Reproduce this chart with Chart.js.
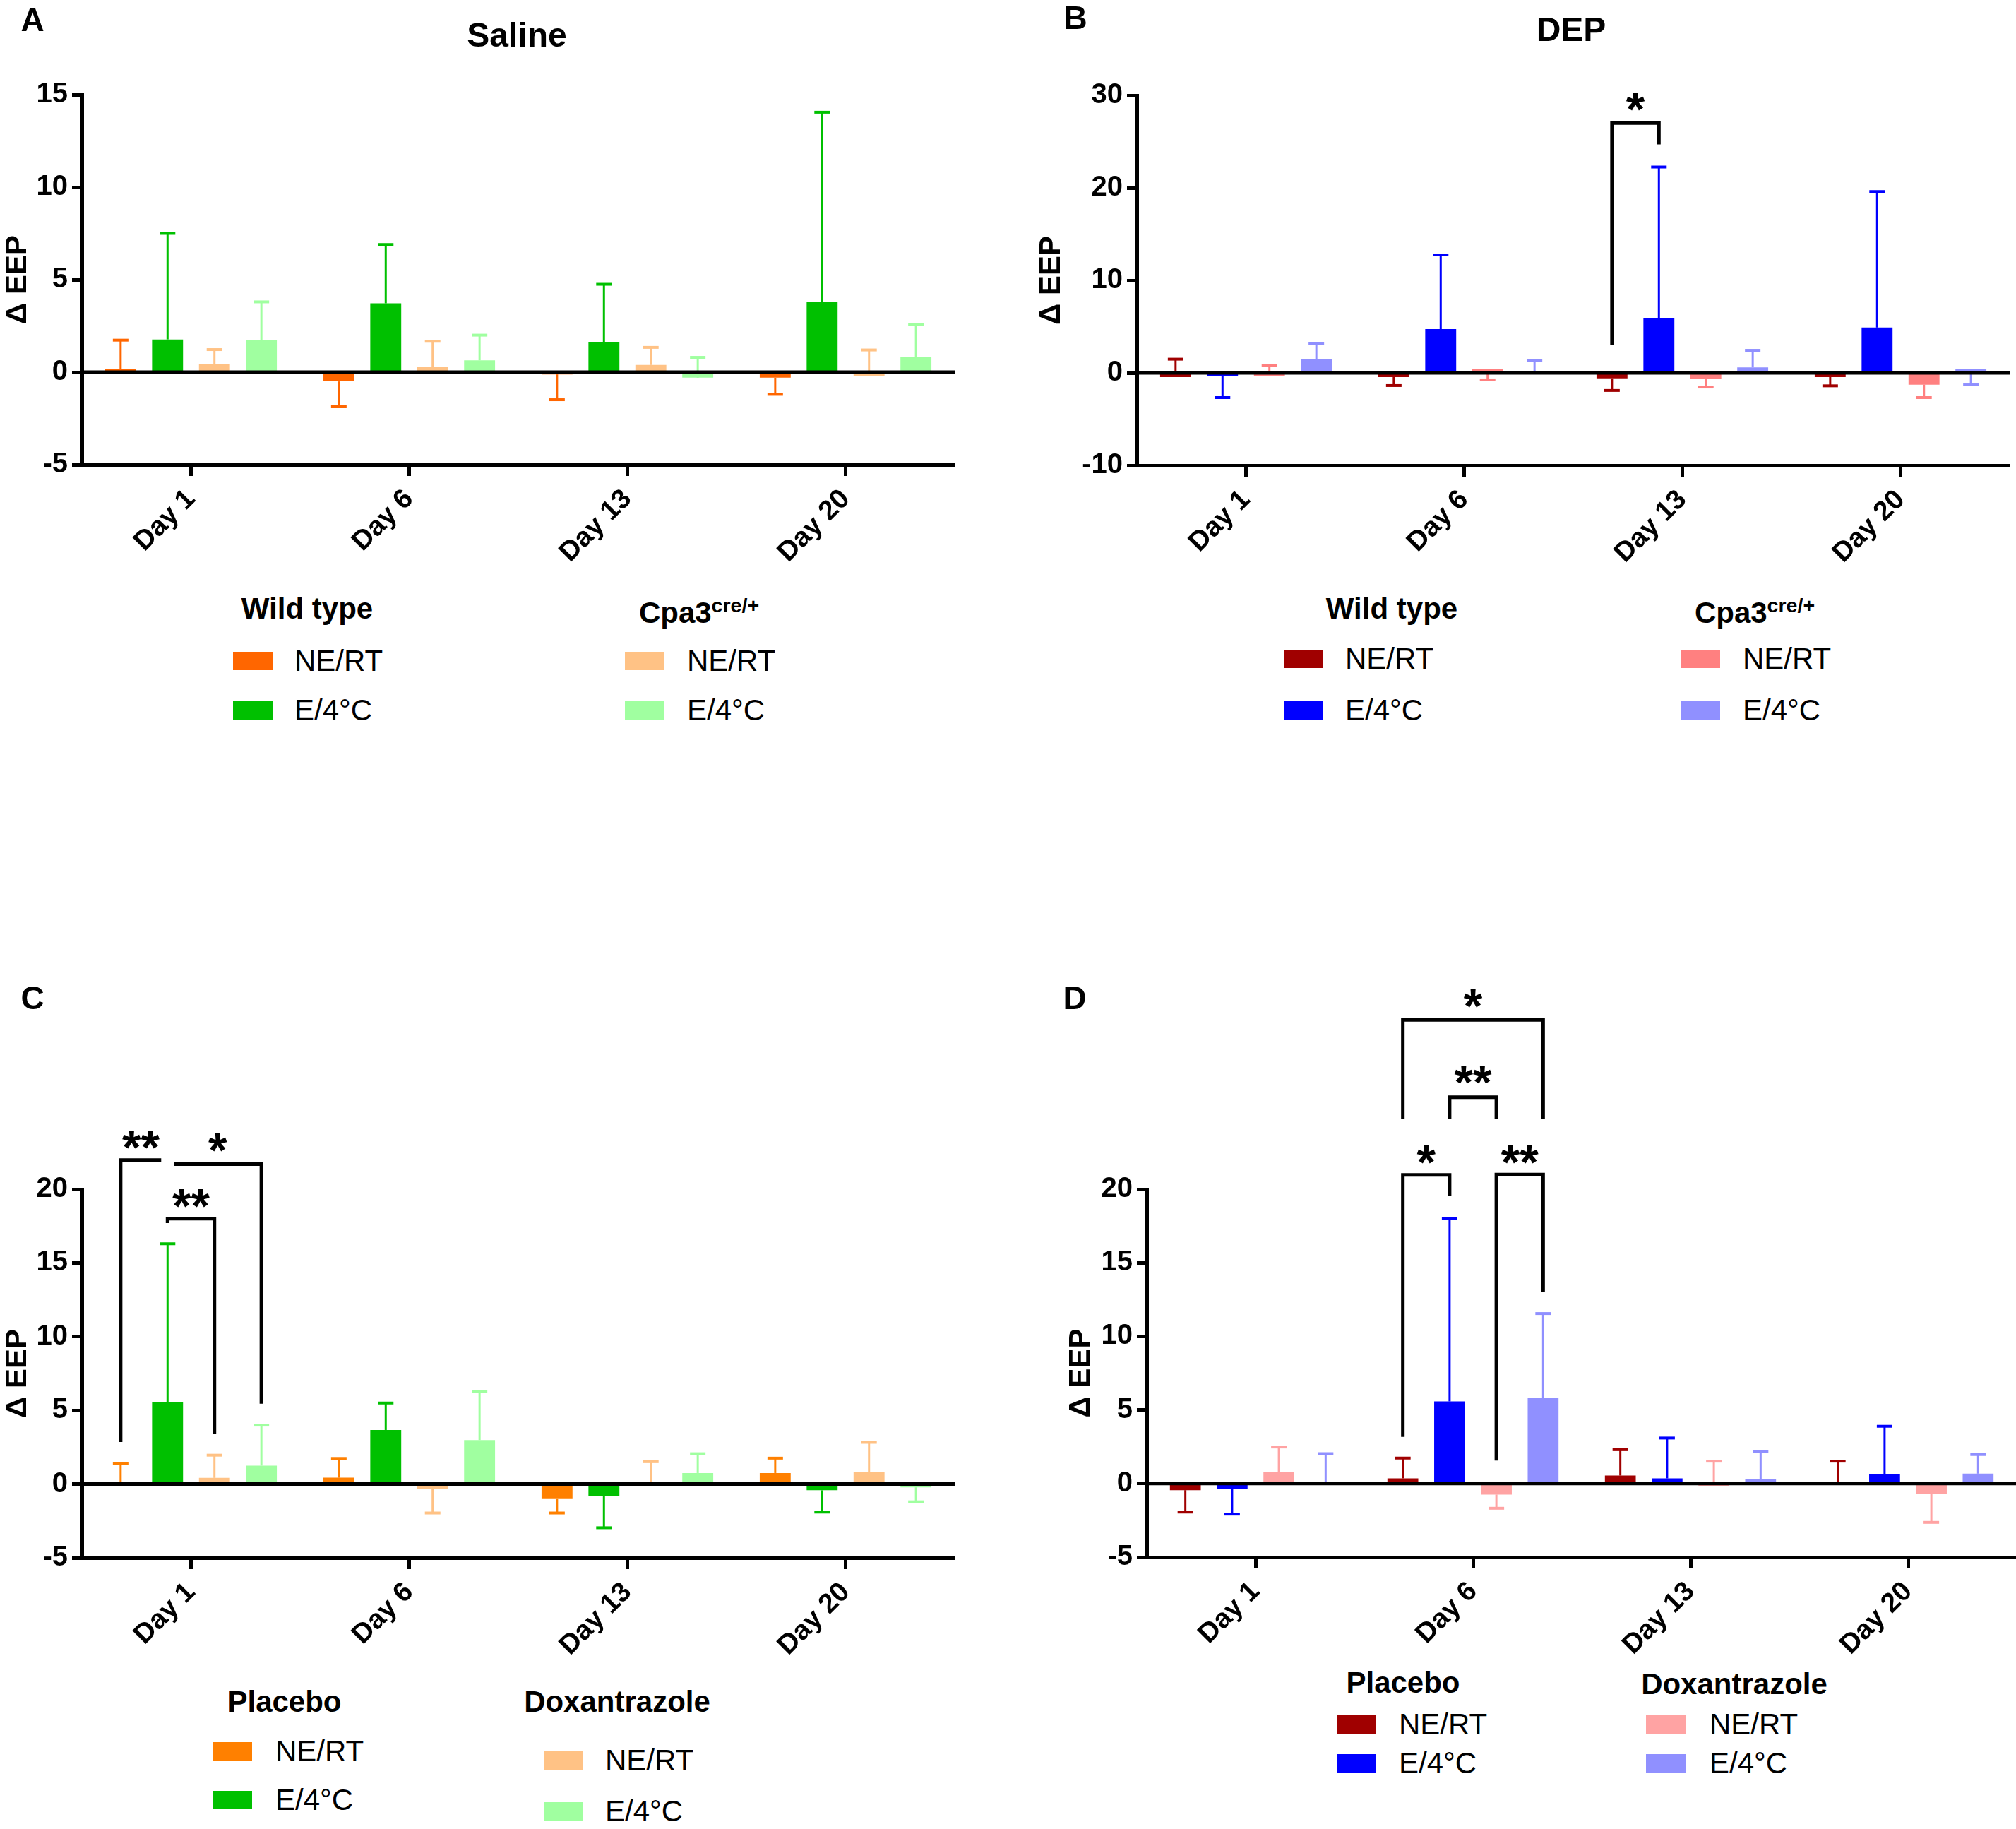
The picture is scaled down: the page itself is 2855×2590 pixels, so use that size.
<!DOCTYPE html>
<html>
<head>
<meta charset="utf-8">
<title>EEP</title>
<script src="https://cdn.jsdelivr.net/npm/chart.js@4.4.1/dist/chart.umd.min.js"></script>
<style>
    html, body { margin: 0; padding: 0; background: #fff; overflow: hidden; }
    body { width: 2855px; height: 2590px; position: relative; font-family: "Liberation Sans", Arial, sans-serif; color: #000; }
    canvas { position: absolute; }
    .txt { position: absolute; white-space: nowrap; line-height: 1; }
    .mid { transform: translate(-50%, -50%); }
    .left { transform: translateY(-50%); }
    .letter { font-size: 46px; font-weight: bold; }
    .title { font-size: 48px; font-weight: bold; }
    .head { font-size: 42px; font-weight: bold; }
    .head sup { font-size: 0.68em; vertical-align: 0.55em; }
    .item { font-size: 42px; }
    .sw { position: absolute; width: 56px; height: 26px; transform: translateY(-50%); }
</style>
</head>
<body>
<script>
const days = ['Day 1', 'Day 6', 'Day 13', 'Day 20'];

// A - Saline (bar = mean, *Err = where the whisker ends)
const salWtNe = [0.15, -0.5, -0.12, -0.3];
const salWtNeErr = [1.73, -1.87, -1.49, -1.2];
const salWtE4 = [1.77, 3.72, 1.62, 3.8];
const salWtE4Err = [7.5, 6.9, 4.75, 14.05];
const salCpaNe = [0.45, 0.29, 0.39, -0.23];
const salCpaNeErr = [1.22, 1.67, 1.34, 1.2];
const salCpaE4 = [1.72, 0.64, -0.3, 0.8];
const salCpaE4Err = [3.8, 2.0, 0.8, 2.57];

// B - DEP
const depWtNe = [-0.46, -0.46, -0.59, -0.46];
const depWtNeErr = [1.48, -1.37, -1.9, -1.4];
const depWtE4 = [-0.3, 4.73, 5.93, 4.9];
const depWtE4Err = [-2.67, 12.75, 22.25, 19.6];
const depCpaNe = [-0.36, 0.46, -0.69, -1.27];
const depCpaNeErr = [0.81, -0.76, -1.53, -2.67];
const depCpaE4 = [1.48, 0.2, 0.59, 0.46];
const depCpaE4Err = [3.16, 1.35, 2.44, -1.3];

// C - Saline, placebo / doxantrazole
const plaNe = [0.05, 0.43, -0.97, 0.75];
const plaNeErr = [1.39, 1.74, -1.96, 1.76];
const plaE4 = [5.54, 3.67, -0.78, -0.42];
const plaE4Err = [16.3, 5.5, -2.96, -1.9];
const doxNe = [0.42, -0.35, -0.1, 0.81];
const doxNeErr = [1.96, -1.96, 1.52, 2.83];
const doxE4 = [1.25, 2.99, 0.75, -0.22];
const doxE4Err = [4.0, 6.28, 2.06, -1.2];

// D - DEP, placebo / doxantrazole
const dPlaNe = [-0.45, 0.35, 0.54, 0.02];
const dPlaNeErr = [-1.94, 1.73, 2.3, 1.52];
const dPlaE4 = [-0.38, 5.58, 0.35, 0.61];
const dPlaE4Err = [-2.08, 18.0, 3.09, 3.89];
const dDoxNe = [0.78, -0.75, -0.15, -0.69];
const dDoxNeErr = [2.48, -1.68, 1.52, -2.64];
const dDoxE4 = [0.12, 5.84, 0.3, 0.67];
const dDoxE4Err = [2.03, 11.55, 2.16, 1.97];

// significance brackets: from, to, day, top, left leg end, right leg end, text, text centre
const sigB = [
    { from: 0, to: 1, cat: 2, top: 27.0, legL: 2.97, legR: 24.7, text: '*', at: 29.7 },
];
const sigC = [
    { from: 0, to: 1, cat: 0, top: 21.97, legL: 2.86, legR: null, text: '**', at: 23.6, trimR: 9 },
    { from: 1, to: 3, cat: 0, top: 21.7, legL: null, legR: 5.45, text: '*', at: 23.4, trimL: 9 },
    { from: 1, to: 2, cat: 0, top: 18.0, legL: 17.7, legR: 3.43, text: '**', at: 19.6 },
];
const sigD = [
    { from: 0, to: 1, cat: 1, top: 20.97, legL: 3.17, legR: 19.55, text: '*', at: 22.6 },
    { from: 2, to: 3, cat: 1, top: 21.0, legL: 1.56, legR: 13.0, text: '**', at: 22.6 },
    { from: 1, to: 2, cat: 1, top: 26.25, legL: 24.8, legR: 24.8, text: '**', at: 28.0 },
    { from: 0, to: 3, cat: 1, top: 31.5, legL: 24.8, legR: 24.8, text: '*', at: 33.2 },
];

const FONT = '"Liberation Sans", Arial, sans-serif';

// Error bars (one-sided whiskers), then the zero line on top
const errorBars = {
    id: 'errorBars',
    afterDatasetsDraw(chart) {
        const ctx = chart.ctx;
        const y = chart.scales.y;
        chart.data.datasets.forEach((ds, i) => {
            const meta = chart.getDatasetMeta(i);
            meta.data.forEach((bar, j) => {
                const y1 = y.getPixelForValue(ds.data[j]);
                const y2 = y.getPixelForValue(ds.errEnd[j]);
                ctx.save();
                ctx.strokeStyle = ds.backgroundColor;
                ctx.lineWidth = 3;
                ctx.beginPath();
                ctx.moveTo(bar.x, y1);
                ctx.lineTo(bar.x, y2);
                ctx.stroke();
                ctx.lineWidth = 4;
                ctx.beginPath();
                ctx.moveTo(bar.x - 11, y2);
                ctx.lineTo(bar.x + 11, y2);
                ctx.stroke();
                ctx.restore();
            });
        });
        const y0 = y.getPixelForValue(0);
        const a = chart.chartArea;
        ctx.save();
        ctx.strokeStyle = '#000';
        ctx.lineWidth = 5;
        ctx.beginPath();
        ctx.moveTo(a.left, y0);
        ctx.lineTo(a.right, y0);
        ctx.stroke();
        ctx.restore();
    }
};

const brackets = {
    id: 'brackets',
    afterDraw(chart, args, opts) {
        const list = opts.list || [];
        const ctx = chart.ctx;
        const y = chart.scales.y;
        list.forEach((b) => {
            const x1 = chart.getDatasetMeta(b.from).data[b.cat].x + (b.trimL || 0);
            const x2 = chart.getDatasetMeta(b.to).data[b.cat].x - (b.trimR || 0);
            const yt = y.getPixelForValue(b.top);
            ctx.save();
            ctx.strokeStyle = '#000';
            ctx.lineWidth = 5;
            ctx.lineJoin = 'miter';
            ctx.beginPath();
            if (b.legL !== null) {
                ctx.moveTo(x1, y.getPixelForValue(b.legL));
                ctx.lineTo(x1, yt);
            } else {
                ctx.moveTo(x1, yt);
            }
            ctx.lineTo(x2, yt);
            if (b.legR !== null) ctx.lineTo(x2, y.getPixelForValue(b.legR));
            ctx.stroke();
            ctx.fillStyle = '#000';
            ctx.font = 'bold 68px ' + FONT;
            ctx.textAlign = 'center';
            ctx.textBaseline = 'alphabetic';
            ctx.fillText(b.text, (x1 + x2) / 2, y.getPixelForValue(b.at) + 39);
            ctx.restore();
        });
    }
};

function series(data, errEnd, color) {
    return { data, errEnd, backgroundColor: color, borderWidth: 0 };
}

function makePanel(box, datasets, yMin, yMax, yStep, sig) {
    const canvas = document.createElement('canvas');
    canvas.width = box.w;
    canvas.height = box.h;
    canvas.style.left = box.x + 'px';
    canvas.style.top = box.y + 'px';
    canvas.style.width = box.w + 'px';
    canvas.style.height = box.h + 'px';
    document.body.appendChild(canvas);

    return new Chart(canvas, {
        type: 'bar',
        data: { labels: days, datasets },
        options: {
            responsive: false,
            animation: false,
            devicePixelRatio: 1,
            layout: { padding: { left: 0, top: box.padTop, right: box.padRight, bottom: 0 } },
            datasets: { bar: { categoryPercentage: 0.86, barPercentage: 0.66 } },
            plugins: {
                legend: { display: false },
                tooltip: { enabled: false },
                brackets: { list: sig },
            },
            scales: {
                x: {
                    grid: { offset: false, drawOnChartArea: false, tickLength: 16, tickWidth: 5, tickColor: '#000' },
                    border: { color: '#000', width: 5 },
                    ticks: {
                        color: '#000',
                        font: { family: FONT, size: 39, weight: 'bold' },
                        minRotation: 45,
                        maxRotation: 45,
                        padding: 10,
                    },
                    afterFit(s) { s.height = 150; },
                },
                y: {
                    min: yMin,
                    max: yMax,
                    ticks: {
                        stepSize: yStep,
                        color: '#000',
                        font: { family: FONT, size: 40, weight: 'bold' },
                        padding: 6,
                    },
                    grid: { drawOnChartArea: false, tickLength: 14, tickWidth: 5, tickColor: '#000' },
                    border: { color: '#000', width: 5 },
                    title: {
                        display: true,
                        text: '\u0394 EEP',
                        color: '#000',
                        font: { family: FONT, size: 42, weight: 'bold' },
                        padding: 0,
                    },
                    afterFit(s) { s.width = box.yw; },
                },
            },
        },
        plugins: [errorBars, brackets],
    });
}

// Panels
makePanel({ x: 0, y: 0, w: 1420, h: 808, padTop: 134, padRight: 68, yw: 116 }, [
    series(salWtNe, salWtNeErr, '#FF6600'),
    series(salWtE4, salWtE4Err, '#00C000'),
    series(salCpaNe, salCpaNeErr, '#FFC285'),
    series(salCpaE4, salCpaE4Err, '#A0FFA0'),
], -5, 15, 5, []);

makePanel({ x: 1464, y: 0, w: 1391, h: 809, padTop: 135, padRight: 9, yw: 146 }, [
    series(depWtNe, depWtNeErr, '#A00000'),
    series(depWtE4, depWtE4Err, '#0000FF'),
    series(depCpaNe, depCpaNeErr, '#FF8080'),
    series(depCpaE4, depCpaE4Err, '#9090FF'),
], -10, 30, 10, sigB);

makePanel({ x: 0, y: 1380, w: 1420, h: 976, padTop: 304, padRight: 68, yw: 116 }, [
    series(plaNe, plaNeErr, '#FF8000'),
    series(plaE4, plaE4Err, '#00C000'),
    series(doxNe, doxNeErr, '#FFC285'),
    series(doxE4, doxE4Err, '#A0FFA0'),
], -5, 20, 5, sigC);

makePanel({ x: 1506, y: 1380, w: 1350, h: 975, padTop: 304, padRight: 0, yw: 118 }, [
    series(dPlaNe, dPlaNeErr, '#A00000'),
    series(dPlaE4, dPlaE4Err, '#0000FF'),
    series(dDoxNe, dDoxNeErr, '#FFA3A3'),
    series(dDoxE4, dDoxE4Err, '#9090FF'),
], -5, 20, 5, sigD);

// Text
function addText(html, x, y, cls) {
    const d = document.createElement('div');
    d.className = 'txt ' + cls;
    d.innerHTML = html;
    d.style.left = x + 'px';
    d.style.top = y + 'px';
    document.body.appendChild(d);
}

function addItem(color, label, sx, tx, y) {
    const s = document.createElement('div');
    s.className = 'sw';
    s.style.background = color;
    s.style.left = sx + 'px';
    s.style.top = y + 'px';
    document.body.appendChild(s);
    addText(label, tx, y, 'item left');
}

addText('A', 46, 28, 'letter mid');
addText('B', 1523, 25, 'letter mid');
addText('C', 46, 1413, 'letter mid');
addText('D', 1522, 1413, 'letter mid');
addText('Saline', 732, 50, 'title mid');
addText('DEP', 2225, 42, 'title mid');

// Legend A
addText('Wild type', 435, 862, 'head mid');
addText('Cpa3<sup>cre/+</sup>', 990, 866, 'head mid');
addItem('#FF6600', 'NE/RT', 330, 417, 936);
addItem('#00C000', 'E/4°C', 330, 417, 1006);
addItem('#FFC285', 'NE/RT', 885, 973, 936);
addItem('#A0FFA0', 'E/4°C', 885, 973, 1006);

// Legend B
addText('Wild type', 1971, 862, 'head mid');
addText('Cpa3<sup>cre/+</sup>', 2485, 866, 'head mid');
addItem('#A00000', 'NE/RT', 1818, 1905, 933);
addItem('#0000FF', 'E/4°C', 1818, 1905, 1006);
addItem('#FF8080', 'NE/RT', 2380, 2468, 933);
addItem('#9090FF', 'E/4°C', 2380, 2468, 1006);

// Legend C
addText('Placebo', 403, 2410, 'head mid');
addText('Doxantrazole', 874, 2410, 'head mid');
addItem('#FF8000', 'NE/RT', 301, 390, 2480);
addItem('#00C000', 'E/4°C', 301, 390, 2549);
addItem('#FFC285', 'NE/RT', 770, 857, 2493);
addItem('#A0FFA0', 'E/4°C', 770, 857, 2565);

// Legend D
addText('Placebo', 1987, 2383, 'head mid');
addText('Doxantrazole', 2456, 2385, 'head mid');
addItem('#A00000', 'NE/RT', 1893, 1981, 2442);
addItem('#0000FF', 'E/4°C', 1893, 1981, 2497);
addItem('#FFA3A3', 'NE/RT', 2331, 2421, 2442);
addItem('#9090FF', 'E/4°C', 2331, 2421, 2497);
</script>
</body>
</html>
